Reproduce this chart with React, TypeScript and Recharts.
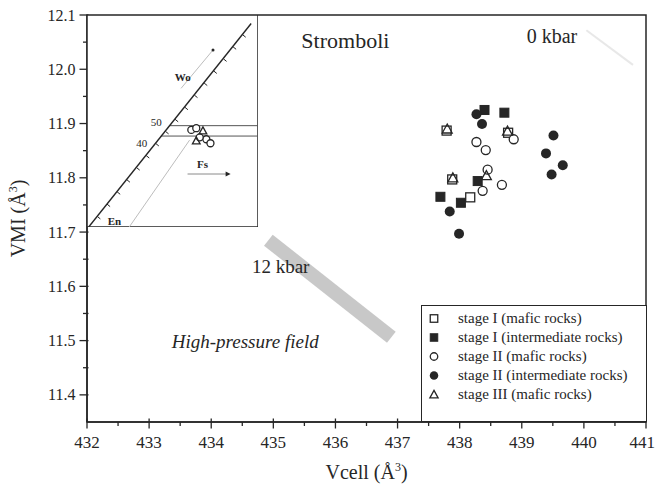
import React from "react";
import {
  ScatterChart,
  Scatter,
  XAxis,
  YAxis,
  ReferenceArea,
  ReferenceLine,
  ReferenceDot,
  Legend,
  Label,
} from "recharts";

const FONT = '"Liberation Serif", "Times New Roman", Times, serif';
const INK = "#262626";

// axis ticks (majors get a label, halves / 0.05 steps are minor)
const X_TICKS = [
  432, 432.5, 433, 433.5, 434, 434.5, 435, 435.5, 436, 436.5, 437, 437.5, 438,
  438.5, 439, 439.5, 440, 440.5, 441,
];
const Y_TICKS = [
  11.4, 11.45, 11.5, 11.55, 11.6, 11.65, 11.7, 11.75, 11.8, 11.85, 11.9,
  11.95, 12.0, 12.05, 12.1,
];

// measured points (Vcell, VMI)
const STAGE1_MAFIC = [
  { x: 437.79, y: 11.887 },
  { x: 438.78, y: 11.883 },
  { x: 437.88, y: 11.797 },
  { x: 438.17, y: 11.764 },
];
const STAGE1_INTER = [
  { x: 438.4, y: 11.925 },
  { x: 438.72, y: 11.92 },
  { x: 438.29, y: 11.794 },
  { x: 437.69, y: 11.765 },
  { x: 438.02, y: 11.754 },
];
const STAGE2_MAFIC = [
  { x: 438.27, y: 11.866 },
  { x: 438.42, y: 11.851 },
  { x: 438.87, y: 11.871 },
  { x: 438.45, y: 11.815 },
  { x: 438.68, y: 11.787 },
  { x: 438.37, y: 11.776 },
];
const STAGE2_INTER = [
  { x: 438.27, y: 11.917 },
  { x: 438.36, y: 11.899 },
  { x: 439.51, y: 11.878 },
  { x: 439.39, y: 11.845 },
  { x: 439.66, y: 11.823 },
  { x: 439.48, y: 11.806 },
  { x: 437.84, y: 11.738 },
  { x: 437.99, y: 11.697 },
];
const STAGE3_MAFIC = [
  { x: 437.8, y: 11.89 },
  { x: 437.89, y: 11.8 },
  { x: 438.77, y: 11.886 },
  { x: 438.43, y: 11.804 },
];

// pressure references
const BAR_12KBAR = [
  { x: 434.92, y: 11.685 },
  { x: 436.9, y: 11.506 },
];
const LINE_0KBAR = [
  { x: 440.04, y: 12.072 },
  { x: 440.79, y: 12.008 },
];

// inset (quadrilateral En-Wo-Fs), own 0..100 units
const INSET_DIAGONAL = [
  { x: 1, y: 0 },
  { x: 96, y: 96 },
];
const INSET_EN_LINE = [
  { x: 24.7, y: 0 },
  { x: 60, y: 41 },
];
const INSET_WO_ARROW = [
  { x: 55, y: 65.4 },
  { x: 73.7, y: 83.5 },
];
const INSET_FS_ARROW = [
  { x: 58.8, y: 25 },
  { x: 82, y: 25 },
];
const INSET_ISO50 = [
  { x: 48.3, y: 47.8 },
  { x: 100, y: 47.8 },
];
const INSET_ISO40 = [
  { x: 43.5, y: 42.9 },
  { x: 100, y: 42.9 },
];
const INSET_DIAG_TICKS = [
  { x: 6, y: 5 },
  { x: 11.7, y: 10.8 },
  { x: 17.6, y: 16.6 },
  { x: 23.3, y: 22.3 },
  { x: 29, y: 28 },
  { x: 34.6, y: 33.7 },
  { x: 40.2, y: 39.4 },
  { x: 45.9, y: 45.1 },
  { x: 51.5, y: 50.8 },
  { x: 57.2, y: 56.5 },
  { x: 62.8, y: 62.2 },
  { x: 68.5, y: 67.9 },
  { x: 74.1, y: 73.6 },
  { x: 79.8, y: 79.3 },
  { x: 85.4, y: 85 },
  { x: 91, y: 90.7 },
];
const INSET_CIRCLES = [
  { x: 61, y: 45.8 },
  { x: 63.9, y: 46.6 },
  { x: 69.8, y: 41.4 },
  { x: 72.2, y: 39.5 },
  { x: 65.9, y: 42.3 },
];
const INSET_TRIANGLES = [
  { x: 67.8, y: 45.4 },
  { x: 63.9, y: 40.7 },
];

type P = { cx?: number; cy?: number; s?: number };

const OpenSquare = ({ cx = 0, cy = 0, s = 9 }: P) => (
  <rect x={cx - s / 2} y={cy - s / 2} width={s} height={s} fill="#fff" stroke={INK} strokeWidth={1.3} />
);
const FilledSquare = ({ cx = 0, cy = 0, s = 9 }: P) => (
  <rect x={cx - s / 2} y={cy - s / 2} width={s} height={s} fill={INK} stroke={INK} strokeWidth={1} />
);
const OpenCircle = ({ cx = 0, cy = 0, s = 9 }: P) => (
  <circle cx={cx} cy={cy} r={s / 2} fill="#fff" stroke={INK} strokeWidth={1.3} />
);
const FilledCircle = ({ cx = 0, cy = 0, s = 9 }: P) => (
  <circle cx={cx} cy={cy} r={s / 2 + 0.5} fill={INK} />
);
const OpenTriangle = ({ cx = 0, cy = 0, s = 9 }: P) => (
  <path
    d={`M${cx},${cy - s * 0.55} L${cx + s * 0.55},${cy + s * 0.45} L${cx - s * 0.55},${cy + s * 0.45} Z`}
    fill="none"
    stroke={INK}
    strokeWidth={1.3}
  />
);

const SERIES = [
  { name: "stage I (mafic rocks)", data: STAGE1_MAFIC, Shape: OpenSquare },
  { name: "stage I (intermediate rocks)", data: STAGE1_INTER, Shape: FilledSquare },
  { name: "stage II (mafic rocks)", data: STAGE2_MAFIC, Shape: OpenCircle },
  { name: "stage II (intermediate rocks)", data: STAGE2_INTER, Shape: FilledCircle },
  { name: "stage III (mafic rocks)", data: STAGE3_MAFIC, Shape: OpenTriangle },
];

const isMajor = (v: number, step: number) =>
  Math.abs(v / step - Math.round(v / step)) < 1e-6;

function XTick({ x, y, payload }: any) {
  const v = payload.value;
  const major = isMajor(v, 1);
  // the last label sits against the image edge
  const last = v === X_TICKS[X_TICKS.length - 1];
  return (
    <g>
      <line x1={x} x2={x} y1={major ? y - 3.5 : y} y2={major ? y + 6.5 : y + 4} stroke={INK} strokeWidth={1.3} />
      {major && (
        <text
          x={last ? x + 9 : x}
          y={y + 25.5}
          textAnchor={last ? "end" : "middle"}
          fontSize={17}
          fontFamily={FONT}
          fill={INK}
        >
          {v}
        </text>
      )}
    </g>
  );
}

function YTick({ x, y, payload }: any) {
  const v = payload.value;
  const major = isMajor(v, 0.1);
  return (
    <g>
      <line x1={major ? x - 7.5 : x - 4} x2={x + 1.5} y1={y} y2={y} stroke={INK} strokeWidth={1.3} />
      {major && (
        <text x={x - 11.5} y={y + 5.5} textAnchor="end" fontSize={16} fontFamily={FONT} fill={INK}>
          {v.toFixed(1)}
        </text>
      )}
    </g>
  );
}

const textShape =
  (value: string, size: number, anchor: string, extra: any = {}) =>
  ({ cx, cy }: any) => (
    <text x={cx} y={cy} textAnchor={anchor} fontSize={size} fontFamily={FONT} fill={INK} {...extra}>
      {value}
    </text>
  );

function LegendBox() {
  return (
    <div
      style={{
        width: "100%",
        height: "100%",
        boxSizing: "border-box",
        border: `1.5px solid ${INK}`,
        background: "#fff",
        paddingTop: 3,
        fontFamily: FONT,
      }}
    >
      {SERIES.map((s) => (
        <div key={s.name} style={{ display: "flex", alignItems: "center", height: 19 }}>
          <svg width={36} height={19} style={{ flex: "none" }}>
            <s.Shape cx={12} cy={9.5} s={7.5} />
          </svg>
          <span style={{ fontSize: 15, color: INK, whiteSpace: "nowrap" }}>{s.name}</span>
        </div>
      ))}
    </div>
  );
}

function Inset() {
  return (
    <ScatterChart width={171} height={212} margin={{ top: 0, right: 0, bottom: 0, left: 0 }}>
      <XAxis type="number" dataKey="x" domain={[0, 100]} hide />
      <YAxis type="number" dataKey="y" domain={[0, 100]} hide />
      <ReferenceArea x1={0} x2={100} y1={0} y2={100} fill="#fff" fillOpacity={1} stroke={INK} strokeWidth={1.5} />
      <ReferenceLine segment={INSET_EN_LINE} stroke="#bdbdbd" strokeWidth={1} />
      <ReferenceLine segment={INSET_WO_ARROW} stroke="#bdbdbd" strokeWidth={1} />
      <ReferenceLine segment={INSET_FS_ARROW} stroke="#8a8a8a" strokeWidth={1} />
      <ReferenceLine segment={INSET_ISO50} stroke="#555" strokeWidth={1} />
      <ReferenceLine segment={INSET_ISO40} stroke="#555" strokeWidth={1} />
      <ReferenceLine segment={INSET_DIAGONAL} stroke={INK} strokeWidth={1.4} />
      <Scatter
        data={INSET_DIAG_TICKS}
        isAnimationActive={false}
        shape={({ cx, cy }: any) => (
          <line x1={cx} y1={cy} x2={cx + 3.1} y2={cy + 2.5} stroke={INK} strokeWidth={1} />
        )}
      />
      <Scatter data={INSET_CIRCLES} isAnimationActive={false} shape={(p: any) => <OpenCircle {...p} s={7} />} />
      <Scatter data={INSET_TRIANGLES} isAnimationActive={false} shape={(p: any) => <OpenTriangle {...p} s={7} />} />
      <ReferenceDot
        x={84}
        y={25}
        r={0}
        shape={({ cx, cy }: any) => (
          <path d={`M${cx},${cy} L${cx - 5},${cy - 2.5} L${cx - 5},${cy + 2.5} Z`} fill={INK} />
        )}
      />
      <ReferenceDot x={73.7} y={83.5} r={0} shape={({ cx, cy }: any) => <circle cx={cx} cy={cy} r={1.5} fill={INK} />} />
      <ReferenceDot x={56} y={69} r={0} shape={textShape("Wo", 11, "middle", { fontWeight: "bold" })} />
      <ReferenceDot x={67.6} y={28} r={0} shape={textShape("Fs", 11, "middle", { fontWeight: "bold" })} />
      <ReferenceDot x={16} y={1} r={0} shape={textShape("En", 11, "middle", { fontWeight: "bold" })} />
      <ReferenceDot x={40.5} y={47.5} r={0} shape={textShape("50", 11, "middle")} />
      <ReferenceDot x={32} y={37.8} r={0} shape={textShape("40", 11, "middle")} />
    </ScatterChart>
  );
}

export default function App() {
  return (
    <div style={{ position: "absolute", left: 0, top: 0, width: 657, height: 491, background: "#fff" }}>
      <ScatterChart width={657} height={491} margin={{ top: 15, right: 11, bottom: 0, left: 0 }}>
        <XAxis
          type="number"
          dataKey="x"
          domain={[432, 441]}
          ticks={X_TICKS}
          interval={0}
          height={69}
          tickSize={0}
          tickMargin={0}
          tickLine={false}
          axisLine={{ stroke: INK, strokeWidth: 1.5 }}
          tick={<XTick />}
        >
          <Label
            content={({ viewBox }: any) => (
              <text
                x={viewBox.x + viewBox.width / 2}
                y={viewBox.y + 57}
                textAnchor="middle"
                fontSize={20}
                fontFamily={FONT}
                fill={INK}
              >
                Vcell (Å<tspan dy={-8} fontSize={12}>3</tspan>
                <tspan dy={8}>)</tspan>
              </text>
            )}
          />
        </XAxis>
        <YAxis
          type="number"
          dataKey="y"
          domain={[11.35, 12.1]}
          ticks={Y_TICKS}
          interval={0}
          width={87}
          tickSize={0}
          tickMargin={0}
          tickLine={false}
          axisLine={{ stroke: INK, strokeWidth: 1.5 }}
          tick={<YTick />}
        >
          <Label
            content={({ viewBox }: any) => {
              const cy = viewBox.y + viewBox.height / 2;
              return (
                <text
                  transform={`translate(25,${cy}) rotate(-90)`}
                  textAnchor="middle"
                  fontSize={20}
                  fontFamily={FONT}
                  fill={INK}
                >
                  VMI (Å<tspan dy={-8} fontSize={12}>3</tspan>
                  <tspan dy={8}>)</tspan>
                </text>
              );
            }}
          />
        </YAxis>
        <ReferenceArea x1={432} x2={441} y1={11.35} y2={12.1} fill="none" stroke={INK} strokeWidth={1.5} />
        <ReferenceLine segment={BAR_12KBAR} stroke="#c8c8c8" strokeWidth={14} />
        <ReferenceLine segment={LINE_0KBAR} stroke="#e8e8e8" strokeWidth={2} />
        <ReferenceDot x={436.16} y={12.04} r={0} shape={textShape("Stromboli", 22, "middle")} />
        <ReferenceDot x={439.08} y={12.048} r={0} shape={textShape("0 kbar", 20, "start")} />
        <ReferenceDot x={434.655} y={11.624} r={0} shape={textShape("12 kbar", 19, "start")} />
        <ReferenceDot
          x={435.73}
          y={11.486}
          r={0}
          shape={textShape("High-pressure field", 19, "end", { fontStyle: "italic" })}
        />
        {SERIES.map((s) => (
          <Scatter
            key={s.name}
            name={s.name}
            data={s.data}
            isAnimationActive={false}
            shape={(p: any) => <s.Shape cx={p.cx} cy={p.cy} />}
          />
        ))}
        <Legend
          layout="vertical"
          align="center"
          verticalAlign="middle"
          content={<LegendBox />}
          wrapperStyle={{ left: 421, top: 305, width: 226, height: 117 }}
        />
      </ScatterChart>
      <div style={{ position: "absolute", left: 87, top: 15 }}>
        <Inset />
      </div>
    </div>
  );
}
